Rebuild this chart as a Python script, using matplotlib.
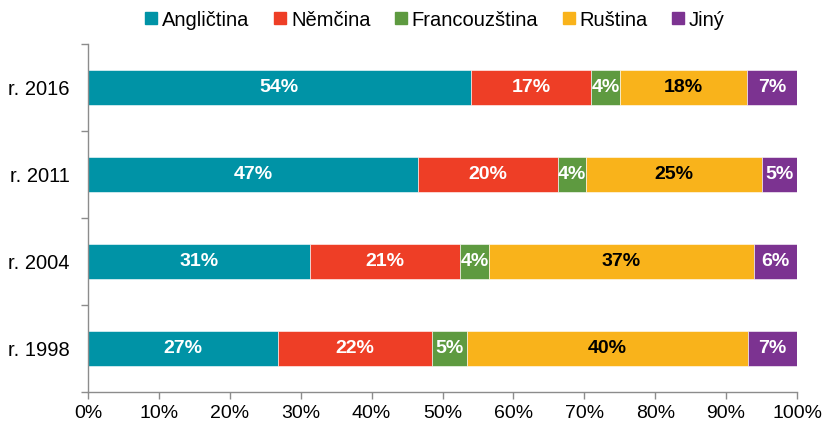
import numpy as np
import matplotlib.pyplot as plt
from matplotlib.lines import Line2D

plt.rcParams['font.family'] = ['Liberation Sans', 'DejaVu Sans']

# Datos (de abajo hacia arriba)
roky = ["r. 1998", "r. 2004", "r. 2011", "r. 2016"]
jazyky = ["Angličtina", "Němčina", "Francouzština", "Ruština", "Jiný"]
anglictina = [27, 31, 47, 54]
nemcina = [22, 21, 20, 17]
francouzstina = [5, 4, 4, 4]
rustina = [40, 37, 25, 18]
jiny = [7, 6, 5, 7]
barvy = ["#0093A6", "#EE3E26", "#5E9A40", "#F9B31B", "#7C3391"]
barva_textu = ["white", "white", "white", "black", "white"]

hodnoty = np.array([anglictina, nemcina, francouzstina, rustina, jiny], dtype=float)
podily = hodnoty / hodnoty.sum(axis=0) * 100  # 100% skladany graf

fig = plt.figure(figsize=(8.24, 4.23), dpi=100)
ax = fig.add_axes([88/824, 1 - 392/423, (797 - 88)/824, (392 - 44)/423])

y = np.arange(len(roky))
zleva = np.zeros(len(roky))
for i, jazyk in enumerate(jazyky):
    ax.barh(y, podily[i], left=zleva, height=0.4, color=barvy[i],
            edgecolor="white", linewidth=0.4)
    for j in range(len(roky)):
        ax.text(zleva[j] + podily[i][j] / 2, y[j], f"{int(hodnoty[i][j])}%",
                ha="center", va="center", color=barva_textu[i],
                fontsize=14, fontweight="bold")
    zleva += podily[i]

ax.set_xlim(0, 100)
ax.set_ylim(-0.5, len(roky) - 0.5)
ax.set_xticks(np.arange(0, 101, 10))
ax.set_xticklabels([f"{t}%" for t in range(0, 101, 10)], fontsize=14)
ax.set_yticks(y)
ax.set_yticklabels(roky, fontsize=14.5)
ax.set_yticks(np.arange(-0.5, len(roky), 1), minor=True)
ax.tick_params(axis="y", which="major", length=0, pad=13)
ax.tick_params(axis="y", which="minor", length=5, color="#8c8c8c", width=1)
ax.tick_params(axis="x", length=5, color="#8c8c8c", width=1, pad=4)

for s in ["top", "right"]:
    ax.spines[s].set_visible(False)
for s in ["left", "bottom"]:
    ax.spines[s].set_color("#8c8c8c")
    ax.spines[s].set_linewidth(1)

# Leyenda
handles = [Line2D([0], [0], marker="s", linestyle="", color=barvy[i],
                  markersize=8) for i in range(len(jazyky))]
fig.legend(handles, jazyky, loc="center", bbox_to_anchor=(433/824, 1 - 20/423),
           ncol=5, frameon=False, fontsize=14.5, handletextpad=0.05,
           columnspacing=1.0, handlelength=1.0)

fig.savefig("out.png", dpi=100)
